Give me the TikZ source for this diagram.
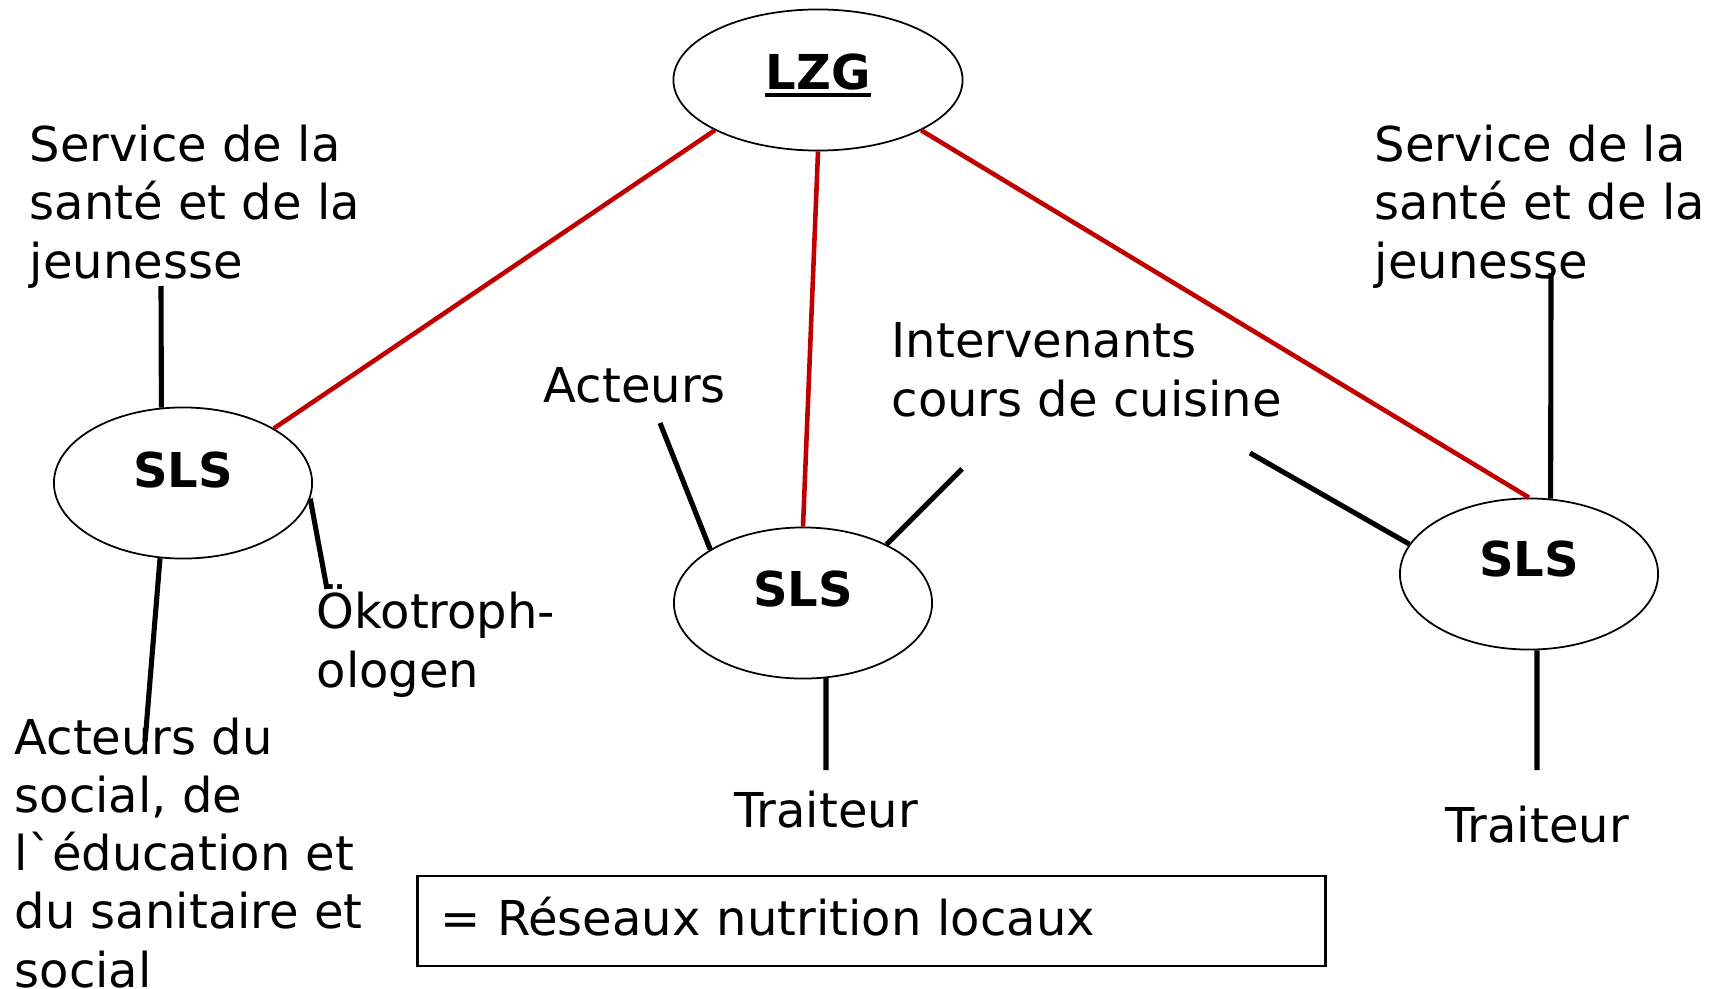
\documentclass[tikz,border=0pt]{standalone}
\usepackage{fontspec}
\setmainfont{DejaVu Sans}
\usetikzlibrary{shapes.geometric,positioning}
\definecolor{netred}{RGB}{192,0,0}
\tikzset{
  hub/.style={ellipse, draw, line width=0.5pt, inner sep=0pt},
  sls/.style={hub, minimum width=2.58cm, minimum height=1.51cm},
  tag/.style={font=\fontsize{13.66pt}{16.5pt}\selectfont\bfseries, inner sep=0pt, anchor=base},
  txt/.style={font=\fontsize{13.66pt}{16.5pt}\selectfont, inner sep=0pt, align=left, anchor=base west},
  legend/.style={draw, line width=0.8pt, font=\fontsize{13.66pt}{16.5pt}\selectfont,
    text width=8.61cm, inner xsep=0.23cm, minimum height=0.9cm, text depth=0.1cm, align=left},
  redlink/.style={netred, line width=1.3pt},
  link/.style={line width=1.45pt},
}

\begin{document}
\begin{tikzpicture}[x=0.01cm,y=-0.01cm]
    \useasboundingbox (0,0) rectangle (1710,988);

    % centre and local networks
    \node[hub, minimum width=2.89cm, minimum height=1.41cm] (LZG) at (818,80) {};
    \node[tag] (LZGt) at (818,90) {LZG};
    \draw[line width=1.15pt] ([yshift=-0.05cm]LZGt.base west) -- ([yshift=-0.05cm]LZGt.base east);
    \node[sls] (SLSa) at (183,483) {};
    \node[tag] (SLSat) at (183,487) {SLS};
    \node[sls] (SLSb) at (803,603) {};
    \node[tag] (SLSbt) at (803,606) {SLS};
    \node[sls] (SLSc) at (1529,574) {};
    \node[tag] (SLSct) at (1529,576) {SLS};

    % partners (base = last line)
    \node[txt] (svcA) at (29,278) {Service de la\\santé et de la\\jeunesse};
    \node[txt] (svcC) at (1374,278) {Service de la\\santé et de la\\jeunesse};
    \node[txt] (actB) at (543,402) {Acteurs};
    \node[txt] (intB) at (891,416) {Intervenants\\cours de cuisine};
    \node[txt] (oekA) at (316,687) {Ökotroph-\\ologen};
    \node[txt] (socA) at (14,987) {Acteurs du\\social, de\\lˋéducation et\\du sanitaire et\\social};
    \node[txt, anchor=base] (traiB) at (826,827) {Traiteur};
    \node[txt, anchor=base] (traiC) at (1537,842) {Traiteur};

    \node[legend] (leg) at (871.5,921) {= Réseaux nutrition locaux};

    % red links
    \draw[redlink] (LZG.206) -- (SLSa.31);
    \draw[redlink] (LZG.270) -- (SLSb.90);
    \draw[redlink] (LZG.334) -- (SLSc.90);

    % black links, free ends
    \coordinate (eA1) at (161,286);
    \coordinate (eA2) at (145,742);
    \coordinate (eA3) at (327,589);
    \coordinate (eB1) at (660,423);
    \coordinate (eB2) at (962,469);
    \coordinate (eB3) at (826,770);
    \coordinate (eC1) at (1250,453);
    \coordinate (eC2) at (1551,273);
    \coordinate (eC3) at (1537,770);
    \draw[link] (SLSa.106) -- (eA1);
    \draw[link] (SLSa.253) -- (eA2);
    \draw[link] (SLSa.-7) -- (eA3);
    \draw[link] (SLSb.150) -- (eB1);
    \draw[link] (SLSb.35) -- (eB2);
    \draw[link] (SLSb.287) -- (eB3);
    \draw[link] (SLSc.166) -- (eC1);
    \draw[link] (SLSc.74) -- (eC2);
    \draw[link] (SLSc.276) -- (eC3);
\end{tikzpicture}
\end{document}
